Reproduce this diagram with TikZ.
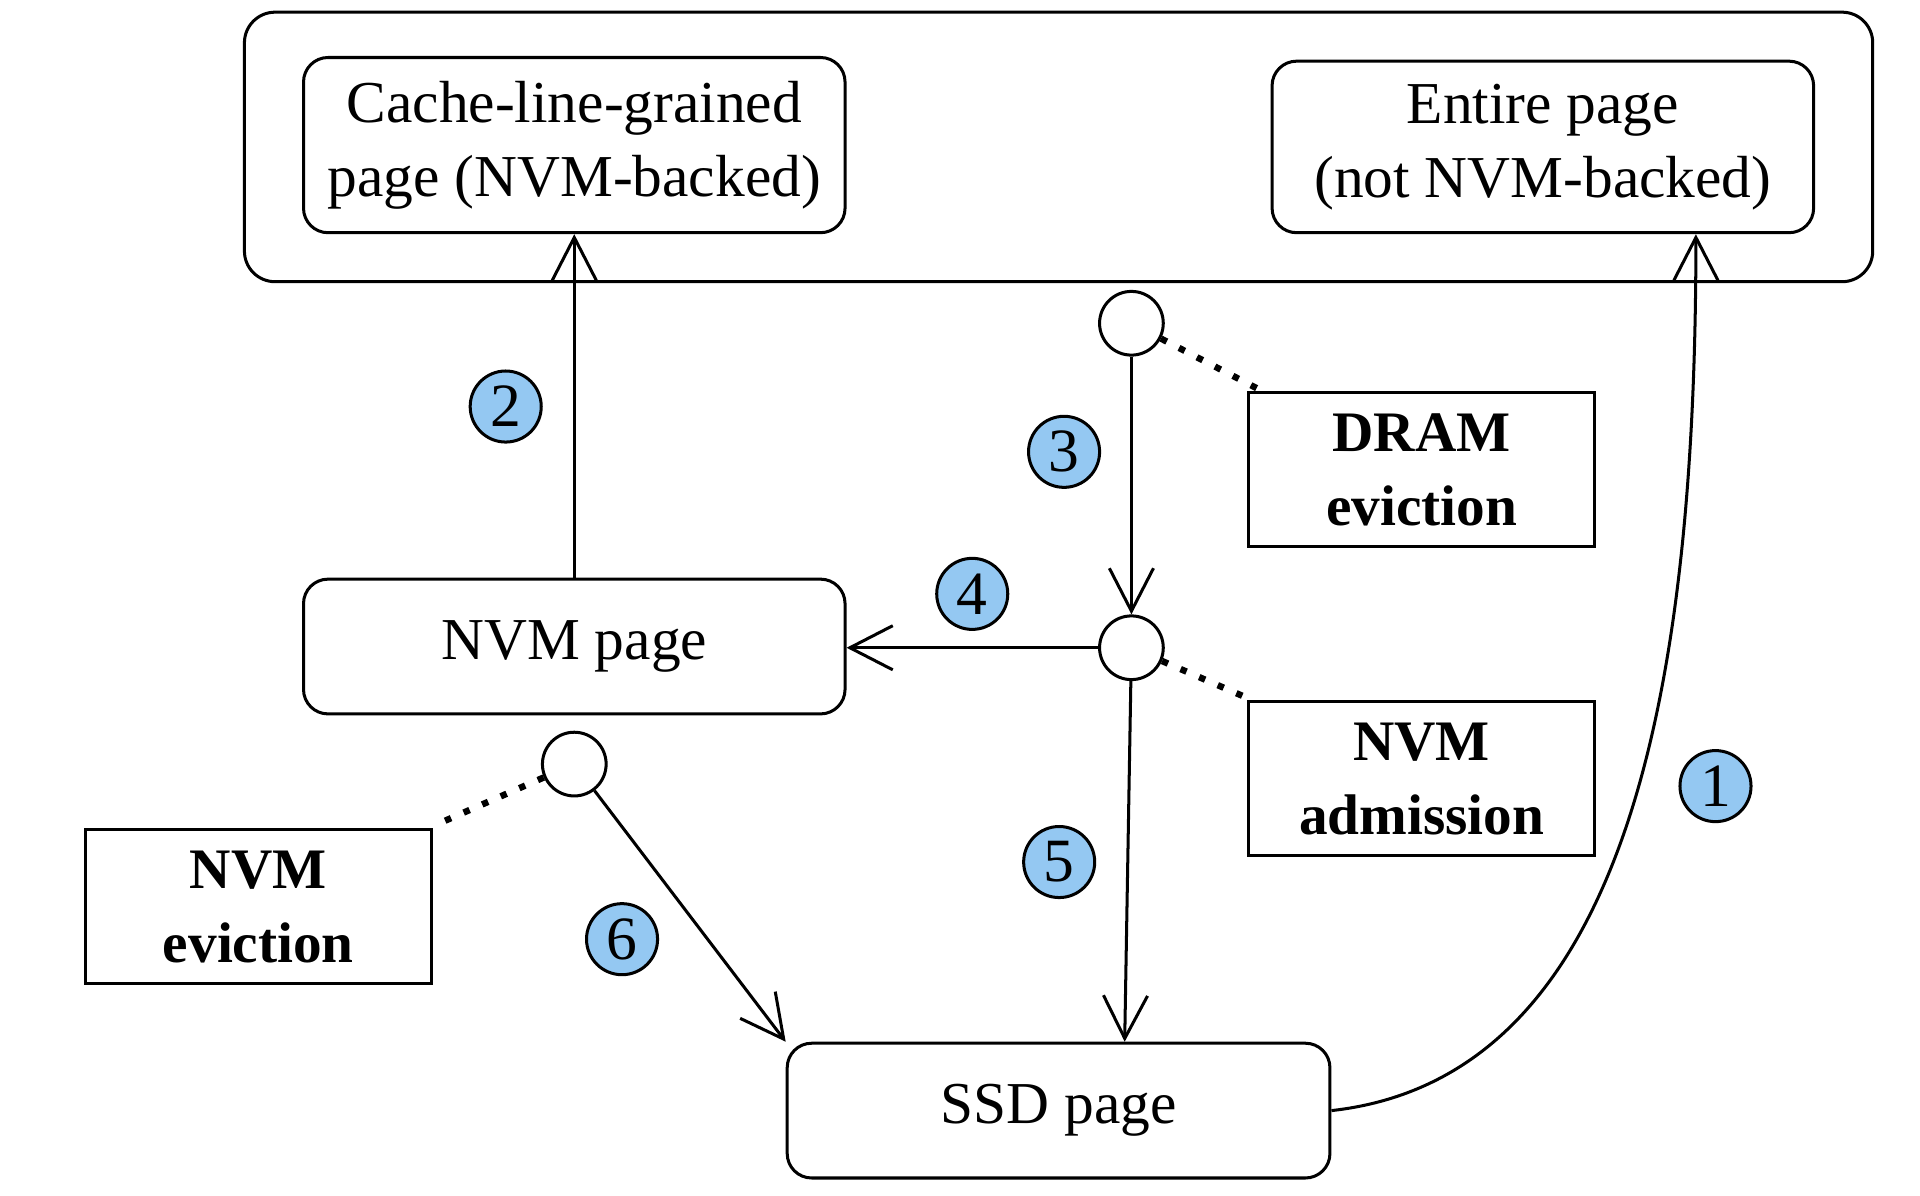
\documentclass[tikz,border=0pt]{standalone}
\usepackage{fontspec}
\setmainfont{Liberation Serif}
\usetikzlibrary{arrows.meta,calc}
\definecolor{numblue}{RGB}{148,200,242}
\begin{document}
\begin{tikzpicture}[x=0.01cm,y=-0.01cm,
  every node/.style={font=\fontsize{13.8}{17.2}\selectfont, align=center, inner sep=0pt},
  rbox/.style={draw, line width=0.7pt, rounded corners=0.2cm},
  sbox/.style={draw, line width=0.7pt, minimum width=2.82cm, minimum height=1.26cm, font=\fontsize{13.3}{17.2}\selectfont\bfseries},
  dec/.style={draw, circle, line width=0.7pt, minimum size=0.52cm, fill=white},
  num/.style={draw, circle, line width=0.7pt, minimum size=0.58cm, fill=numblue, font=\fontsize{14.3}{17.2}\selectfont},
  flow/.style={line width=0.7pt, -{Straight Barb[length=3.5mm,width=3.6mm,line width=0.7pt]}},
  dots/.style={line width=1.5pt, dash pattern=on 1.5pt off 3.2pt}
]
\useasboundingbox (0,0) rectangle (1568,976);

% outer box
\node[rbox, rounded corners=0.25cm, minimum width=13.29cm, minimum height=2.2cm] (outer) at (864.5,120) {};
\node[rbox, minimum width=4.42cm, minimum height=1.43cm] (cache) at (469,118.5) {Cache-line-grained\\page (NVM-backed)};
\node[rbox, minimum width=4.42cm, minimum height=1.40cm] (entire) at (1260,120) {Entire page\\(not NVM-backed)};
\node[rbox, minimum width=4.42cm, minimum height=1.10cm] (nvm) at (469,528) {NVM page};
\node[rbox, minimum width=4.43cm, minimum height=1.10cm] (ssd) at (864.5,907) {SSD page};

\node[sbox] (dram) at (1161,383.5) {DRAM\\eviction};
\node[sbox] (adm) at (1161,636) {NVM\\admission};
\node[sbox] (evict) at (211,740.5) {NVM\\eviction};

\node[dec] (cA) at (924,264) {};
\node[dec] (cB) at (924,529) {};
\node[dec] (cC) at (469,624) {};

% dotted links
\draw[dots] (cA) -- ($(dram.north west)+(8,-2)$);
\draw[dots] (cB) -- ($(adm.north west)+(-3,-3)$);
\draw[dots] (cC) -- ($(evict.north east)+(8,-5)$);

% flows
\draw[flow] (nvm.north) -- (cache.south);
\draw[flow] (ssd.east) .. controls (1330,880) and (1385,560) .. ($(entire.south)+(125,0)$);
\draw[flow] (cA) -- (cB);
\draw[flow] (cB) -- (nvm.east |- cB);
\draw[flow] (cB) -- ($(ssd.north)+(54,0)$);
\draw[flow] (cC) -- (ssd.north west);

% numbers
\node[num] (n1) at (1401,642) {1};
\node[num] (n2) at (413,332) {2};
\node[num] (n3) at (869,369) {3};
\node[num] (n4) at (794,485) {4};
\node[num] (n5) at (865,704) {5};
\node[num] (n6) at (508,767) {6};
\end{tikzpicture}
\end{document}
